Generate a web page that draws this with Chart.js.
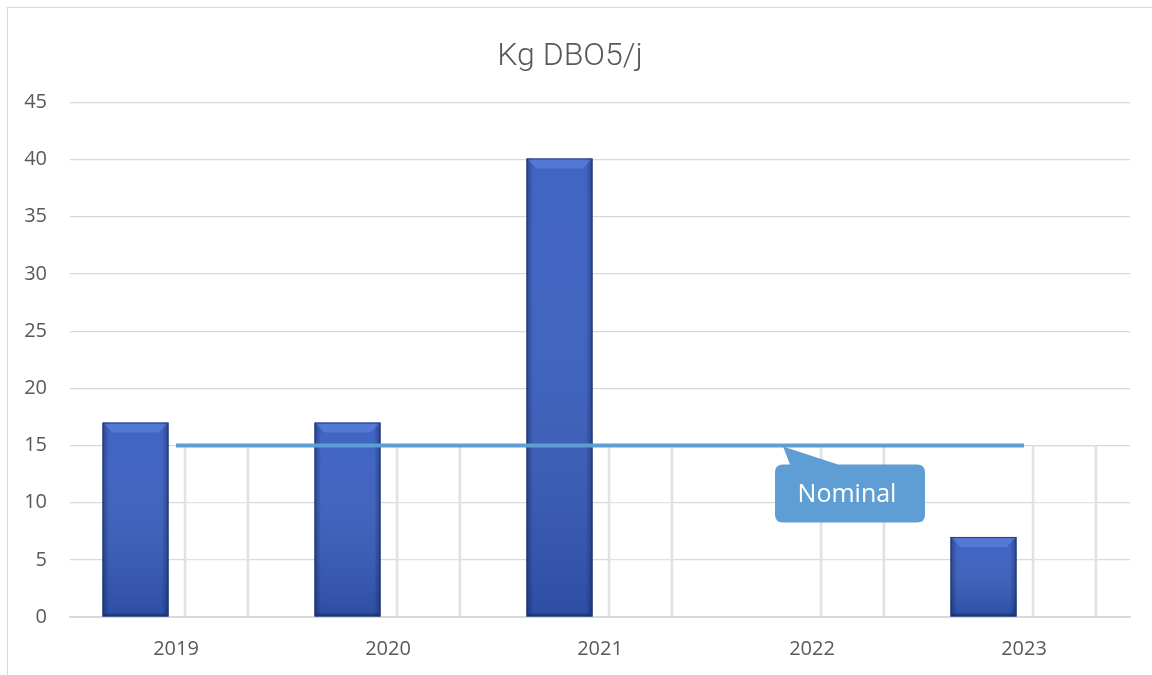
<!DOCTYPE html>
<html>
<head>
<meta charset="utf-8">
<script src="https://cdn.jsdelivr.net/npm/chart.js@4.4.1/dist/chart.umd.min.js"></script>
<style>
  html, body { margin: 0; padding: 0; background: #ffffff; }
  #wrap { position: relative; width: 1152px; height: 675px; overflow: hidden; }
  #frame { position: absolute; left: 7px; top: 7px; width: 1200px; height: 700px;
           border-left: 1.5px solid #d9d9d9; border-top: 1.5px solid #d9d9d9; pointer-events: none; }
  canvas { position: absolute; left: 0; top: 0; }
</style>
</head>
<body>
<div id="wrap">
  <div id="frame"></div>
  <canvas id="c" width="1152" height="675"></canvas>
</div>
<script>
// ---- data ----
const chartTitle = 'Kg DBO5/j';
const years = ['2019', '2020', '2021', '2022', '2023'];
const measured = [17, 17, 40.1, 0, 7];
const nominal = [15, 15, 15, 15, 15];
const measuredLabel = 'Kg DBO5/j';
const nominalLabel = 'Nominal';
const yMin = 0, yMax = 45, yStep = 5;

// bevel effect for blue bars
const bevelPlugin = {
  id: 'bevel',
  afterDatasetDraw(chart, args) {
    if (args.meta.type !== 'bar' || args.index !== 1) return;
    const ctx = chart.ctx;
    args.meta.data.forEach(el => {
      const l = el.x - el.width / 2, r = el.x + el.width / 2;
      const t = Math.min(el.y, el.base), b = Math.max(el.y, el.base);
      if (!isFinite(l) || !isFinite(r) || b - t < 2) return;
      ctx.save();
      const gv = ctx.createLinearGradient(0, t, 0, b);
      gv.addColorStop(0, 'rgba(255,255,255,0.04)');
      gv.addColorStop(1, 'rgba(10,20,60,0.22)');
      ctx.fillStyle = gv;
      ctx.fillRect(l, t, r - l, b - t);
      const g = ctx.createLinearGradient(l, 0, r, 0);
      g.addColorStop(0, 'rgba(10,20,60,0.40)');
      g.addColorStop(0.1, 'rgba(10,20,60,0.0)');
      g.addColorStop(0.9, 'rgba(10,20,60,0.0)');
      g.addColorStop(1, 'rgba(10,20,60,0.40)');
      ctx.fillStyle = g;
      ctx.fillRect(l, t, r - l, b - t);
      const bv = Math.min(10, (b - t) / 3);
      ctx.beginPath();
      ctx.moveTo(l, t); ctx.lineTo(r, t); ctx.lineTo(r - bv, t + bv); ctx.lineTo(l + bv, t + bv); ctx.closePath();
      ctx.fillStyle = 'rgba(120,160,245,0.35)';
      ctx.fill();
      ctx.beginPath();
      ctx.moveTo(l, b); ctx.lineTo(r, b); ctx.lineTo(r - 3, b - 3); ctx.lineTo(l + 3, b - 3); ctx.closePath();
      ctx.fillStyle = 'rgba(10,20,60,0.3)';
      ctx.fill();
      ctx.strokeStyle = 'rgba(30,50,105,0.85)';
      ctx.lineWidth = 1;
      ctx.strokeRect(l + 0.5, t + 0.5, r - l - 1, b - t - 1);
      ctx.restore();
    });
  }
};

// callout label for the nominal line
const calloutPlugin = {
  id: 'callout',
  afterDraw(chart) {
    const ctx = chart.ctx;
    const xs = chart.scales.x, ys = chart.scales.y;
    const lineY = ys.getPixelForValue(nominal[3]);
    const cx = xs.getPixelForValue(3);
    const left = cx - 37, right = cx + 113, top = lineY + 19, bottom = lineY + 77, rad = 8;
    ctx.save();
    ctx.fillStyle = '#5f9ed4';
    ctx.beginPath();
    ctx.moveTo(left + rad, top);
    ctx.lineTo(left + 15, top);
    ctx.lineTo(left + 8, lineY + 1);
    ctx.lineTo(left + 63, top);
    ctx.lineTo(right - rad, top);
    ctx.quadraticCurveTo(right, top, right, top + rad);
    ctx.lineTo(right, bottom - rad);
    ctx.quadraticCurveTo(right, bottom, right - rad, bottom);
    ctx.lineTo(left + rad, bottom);
    ctx.quadraticCurveTo(left, bottom, left, bottom - rad);
    ctx.lineTo(left, top + rad);
    ctx.quadraticCurveTo(left, top, left + rad, top);
    ctx.closePath();
    ctx.fill();
    ctx.fillStyle = '#ffffff';
    ctx.font = '25px "Open Sans"';
    ctx.textAlign = 'center';
    ctx.textBaseline = 'middle';
    ctx.fillText(nominalLabel, (left + right) / 2 - 3, (top + bottom) / 2 + 1);
    ctx.restore();
  }
};

new Chart(document.getElementById('c'), {
  type: 'bar',
  data: {
    labels: years,
    datasets: [
      {
        type: 'line',
        label: nominalLabel,
        data: nominal,
        borderColor: '#5f9ed4',
        borderWidth: 4,
        pointRadius: 0,
        fill: false,
        order: 0
      },
      {
        label: measuredLabel,
        data: measured,
        backgroundColor: '#375ec0',
        borderWidth: 0,
        order: 1
      },
      {
        label: nominalLabel,
        data: nominal,
        backgroundColor: 'rgba(255,255,255,0.25)',
        borderColor: '#e2e2e2',
        borderWidth: { left: 3, right: 3, top: 1, bottom: 0 },
        borderSkipped: false,
        order: 2
      }
    ]
  },
  options: {
    responsive: false,
    animation: false,
    categoryPercentage: 0.764,
    barPercentage: 0.815,
    layout: { padding: { left: 10, right: 22, top: 0, bottom: 15 } },
    plugins: {
      legend: { display: false },
      tooltip: { enabled: false },
      title: {
        display: true,
        text: chartTitle,
        color: '#595959',
        font: { family: 'Roboto', size: 32, weight: '300' },
        padding: { top: 38, bottom: 26 }
      }
    },
    scales: {
      x: {
        afterFit(scale) { scale.height = 43; },
        grid: { display: false, drawTicks: false },
        border: { display: true, color: '#d9d9d9', width: 2 },
        ticks: { color: '#595959', font: { family: 'Open Sans', size: 20 }, padding: 20 }
      },
      y: {
        min: yMin, max: yMax,
        afterFit(scale) { scale.width = 60; },
        grid: { color: '#d9d9d9', lineWidth: 1.2, drawTicks: false },
        border: { display: false },
        ticks: { stepSize: yStep, color: '#595959', font: { family: 'Open Sans', size: 20 }, padding: 23 }
      }
    }
  },
  plugins: [bevelPlugin, calloutPlugin]
});
</script>
</body>
</html>
